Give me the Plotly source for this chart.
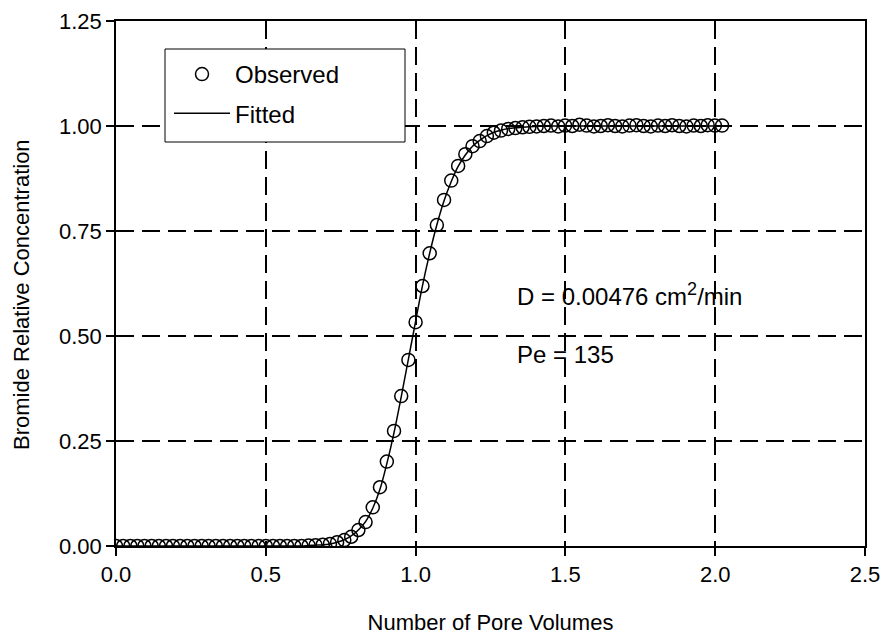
import plotly.graph_objects as go

# Observed data (pore volumes, relative concentration)
pore_volumes = [
    0.000, 0.024, 0.048, 0.071, 0.095, 0.119, 0.143, 0.167, 0.190, 0.214,
    0.238, 0.262, 0.286, 0.309, 0.333, 0.357, 0.381, 0.405, 0.428, 0.452,
    0.476, 0.500, 0.524, 0.547, 0.571, 0.595, 0.619, 0.643, 0.666, 0.690,
    0.714, 0.738, 0.762, 0.785, 0.809, 0.833, 0.857, 0.881, 0.904, 0.928,
    0.952, 0.976, 1.000, 1.023, 1.047, 1.071, 1.095, 1.119, 1.142, 1.166,
    1.190, 1.214, 1.238, 1.261, 1.285, 1.309, 1.333, 1.357, 1.380, 1.404,
    1.428, 1.452, 1.476, 1.499, 1.523, 1.547, 1.571, 1.595, 1.618, 1.642,
    1.666, 1.690, 1.714, 1.737, 1.761, 1.785, 1.809, 1.833, 1.856, 1.880,
    1.904, 1.928, 1.952, 1.975, 1.999, 2.023,
]
observed = [
    0.000, 0.000, 0.000, 0.000, 0.000, 0.000, 0.000, 0.000, 0.000, 0.000,
    0.000, 0.000, 0.000, 0.000, 0.000, 0.000, 0.000, 0.000, 0.000, 0.000,
    0.000, 0.000, 0.000, 0.000, 0.000, 0.000, 0.000, 0.001, 0.002, 0.003,
    0.005, 0.009, 0.014, 0.022, 0.038, 0.057, 0.092, 0.140, 0.201, 0.274,
    0.357, 0.443, 0.533, 0.619, 0.697, 0.764, 0.824, 0.870, 0.905, 0.933,
    0.952, 0.964, 0.976, 0.984, 0.989, 0.993, 0.995, 0.997, 0.998, 0.999,
    1.000, 1.001, 0.999, 1.001, 1.000, 1.003, 1.001, 0.999, 1.000, 1.002,
    1.000, 0.999, 1.001, 1.002, 1.000, 0.999, 1.001, 1.000, 1.002, 1.000,
    0.999, 1.001, 1.000, 1.002, 1.001, 1.001,
]
fitted = [
    0.000, 0.000, 0.000, 0.000, 0.000, 0.000, 0.000, 0.000, 0.000, 0.000,
    0.000, 0.000, 0.000, 0.000, 0.000, 0.000, 0.000, 0.000, 0.000, 0.000,
    0.000, 0.000, 0.000, 0.000, 0.000, 0.000, 0.000, 0.001, 0.002, 0.003,
    0.005, 0.009, 0.015, 0.024, 0.038, 0.058, 0.090, 0.135, 0.196, 0.270,
    0.355, 0.445, 0.535, 0.620, 0.697, 0.765, 0.822, 0.868, 0.904, 0.931,
    0.952, 0.966, 0.977, 0.985, 0.990, 0.994, 0.996, 0.997, 0.998, 0.999,
    1.000, 1.000, 1.000, 1.000, 1.000, 1.000, 1.000, 1.000, 1.000, 1.000,
    1.000, 1.000, 1.000, 1.000, 1.000, 1.000, 1.000, 1.000, 1.000, 1.000,
    1.000, 1.000, 1.000, 1.000, 1.000, 1.000,
]

x_ticks = [0.0, 0.5, 1.0, 1.5, 2.0, 2.5]
x_tick_labels = ["0.0", "0.5", "1.0", "1.5", "2.0", "2.5"]
y_ticks = [0.0, 0.25, 0.5, 0.75, 1.0, 1.25]
y_tick_labels = ["0.00", "0.25", "0.50", "0.75", "1.00", "1.25"]

FONT = "Liberation Sans, Arial, Helvetica, sans-serif"
FS = 22
FS_BIG = 24

# page has an 8px body margin; target plot area in page pixels:
# left 116, right 865, top 21, bottom 546
OFF = 8
PL, PR, PT, PB = 116 - OFF, 865 - OFF, 21 - OFF, 546 - OFF
PW, PH = PR - PL, PB - PT
W, H = 890, 637


def px_x(p):
    return (p - OFF - PL) / PW


def px_y(p):
    return (PB - (p - OFF)) / PH


fig = go.Figure()
fig.add_trace(go.Scatter(
    x=pore_volumes, y=observed, mode="markers", name="Observed",
    legendgroup="obs",
    marker=dict(symbol="circle-open", size=13, color="black",
                line=dict(width=1.5, color="black")),
))
fig.add_trace(go.Scatter(
    x=pore_volumes, y=fitted, mode="lines", name="Fitted",
    legendgroup="fit",
    line=dict(color="black", width=1.5, shape="spline"),
))
# invisible helper trace on overlay axis to draw inward y ticks
fig.add_trace(go.Scatter(
    x=pore_volumes, y=fitted, mode="lines", showlegend=False,
    yaxis="y2", line=dict(color="rgba(0,0,0,0)"), hoverinfo="skip",
))

fig.update_layout(
    width=W, height=H,
    margin=dict(l=PL, r=W - PR, t=PT, b=H - PB, autoexpand=False),
    paper_bgcolor="white", plot_bgcolor="white",
    font=dict(family=FONT, size=FS, color="black"),
    showlegend=True,
    legend=dict(
        x=px_x(169), y=px_y(52), xanchor="left", yanchor="top",
        bgcolor="rgba(0,0,0,0)", borderwidth=0,
        font=dict(size=FS_BIG), tracegroupgap=5, itemwidth=56,
        traceorder="grouped",
    ),
    shapes=[
        dict(type="rect", xref="paper", yref="paper",
             x0=px_x(165), x1=px_x(405), y0=px_y(142), y1=px_y(49),
             line=dict(color="black", width=1), fillcolor="white",
             layer="above"),
    ],
    xaxis=dict(
        range=[0, 2.5], tickvals=x_ticks, ticktext=x_tick_labels,
        showline=True, linecolor="black", linewidth=1.5, mirror=True,
        ticks="outside", ticklen=8, tickcolor="black", tickwidth=1.5,
        showgrid=True, gridcolor="black", gridwidth=1.5, griddash="18px,8px",
        zeroline=False, automargin=False,
        title=dict(text="Number of Pore Volumes", standoff=28,
                   font=dict(size=FS)),
        tickfont=dict(size=FS),
    ),
    yaxis=dict(
        range=[0, 1.25], tickvals=y_ticks, ticktext=y_tick_labels,
        showline=True, linecolor="black", linewidth=1.5, mirror=True,
        ticks="outside", ticklen=8, tickcolor="black", tickwidth=1.5,
        showgrid=True, gridcolor="black", gridwidth=1.5, griddash="18px,8px",
        zeroline=False, automargin=False,
        tickfont=dict(size=FS),
    ),
    yaxis2=dict(
        overlaying="y", matches="y", side="left", range=[0, 1.25],
        tickvals=y_ticks, showticklabels=False, ticks="inside", ticklen=8,
        tickcolor="black", tickwidth=1.5, showgrid=False, zeroline=False,
        showline=False, automargin=False,
    ),
    annotations=[
        dict(x=px_x(21), y=px_y(295), xref="paper", yref="paper",
             xanchor="center", yanchor="middle", showarrow=False,
             textangle=-90, text="Bromide Relative Concentration",
             font=dict(size=FS)),
        dict(x=1.332, y=0.598, xref="x", yref="y", xanchor="left",
             yanchor="middle", showarrow=False,
             text='D = 0.00476 cm<sup><span style="font-size:18px">2</span></sup>/min',
             font=dict(size=FS_BIG)),
        dict(x=1.332, y=0.455, xref="x", yref="y", xanchor="left",
             yanchor="middle", showarrow=False,
             text="Pe = 135", font=dict(size=FS_BIG)),
    ],
)

fig.write_html("out.html")
